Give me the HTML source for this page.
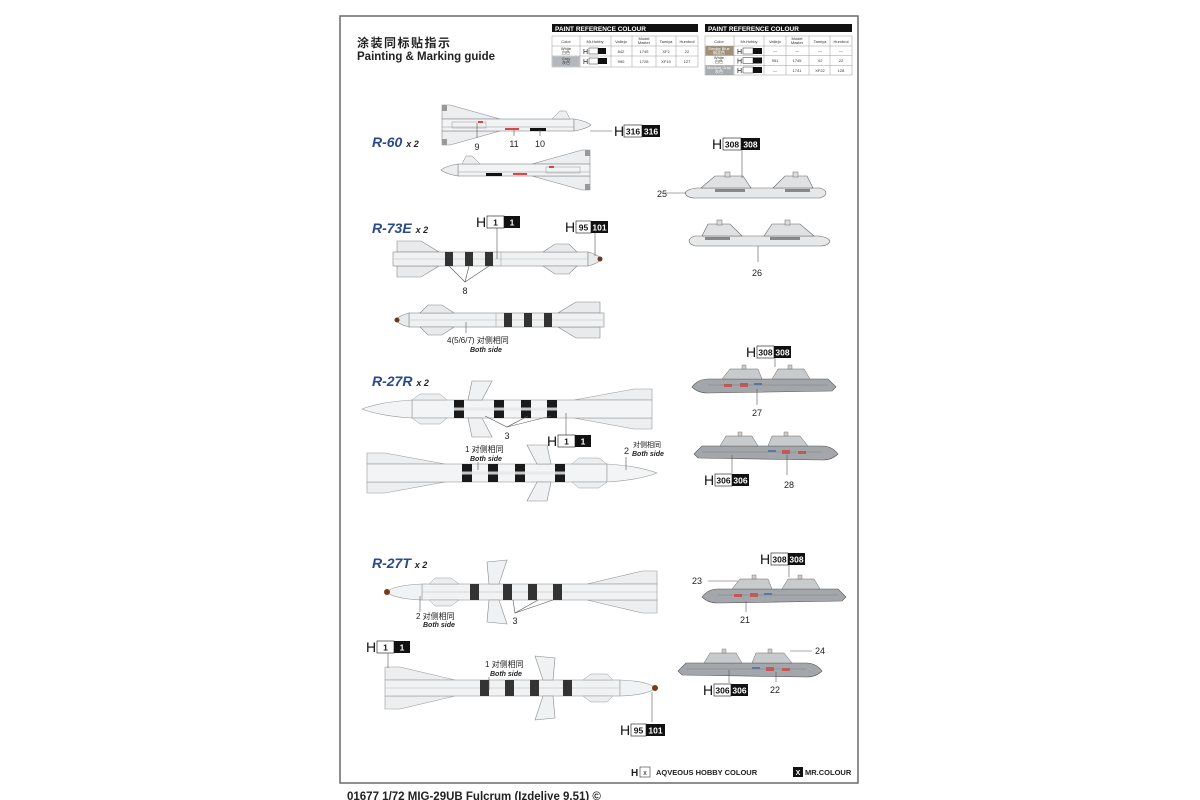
<!DOCTYPE html>
<html><head><meta charset="utf-8"><style>
html,body{margin:0;padding:0;background:#fff;}
svg{display:block;}
text{font-family:"Liberation Sans","Noto Sans CJK SC",sans-serif;}
</style></head><body>
<svg width="1200" height="800" viewBox="0 0 1200 800" xmlns="http://www.w3.org/2000/svg">
<defs>
 <!-- R-60: tail at 0, nose at +148, center 0 -->
 <g id="r60">
  <polygon points="0,-20 8,-20 58,-6 0,-6" fill="#eceef0" stroke="#888" stroke-width="0.6"/>
  <polygon points="0,20 8,20 58,6 0,6" fill="#eceef0" stroke="#888" stroke-width="0.6"/>
  <rect x="0" y="-6" width="132" height="12" fill="#f2f3f4" stroke="#888" stroke-width="0.6"/>
  <path d="M132,-6 Q144,-4 149,0 Q144,4 132,6 Z" fill="#eceef0" stroke="#888" stroke-width="0.6"/>
  <polygon points="110,-6 118,-14 124,-14 128,-6" fill="#eceef0" stroke="#888" stroke-width="0.5"/>
  <rect x="0" y="-20" width="5" height="6" fill="#999"/><rect x="0" y="14" width="5" height="6" fill="#999"/>
  <line x1="0" y1="2" x2="132" y2="2" stroke="#999" stroke-width="0.5"/>
  <rect x="10" y="-3" width="34" height="6" fill="none" stroke="#999" stroke-width="0.5"/>
  <rect x="88" y="3" width="16" height="3" fill="#111"/>
  <rect x="63" y="3" width="14" height="2" fill="#d44"/>
  <rect x="36" y="-4" width="5" height="2" fill="#d44"/>
 </g>
 <!-- R-73E -->
 <g id="r73">
  <polygon points="4,-18 28,-18 46,-7 4,-7" fill="#e8eaec" stroke="#888" stroke-width="0.6"/>
  <polygon points="4,18 28,18 46,7 4,7" fill="#e8eaec" stroke="#888" stroke-width="0.6"/>
  <rect x="0" y="-7" width="195" height="14" fill="#f0f1f2" stroke="#888" stroke-width="0.6"/>
  <path d="M195,-7 Q206,-4 208,0 Q206,4 195,7 Z" fill="#e8eaec" stroke="#888" stroke-width="0.6"/>
  <circle cx="207" cy="0" r="2.5" fill="#6a3a1a"/>
  <polygon points="150,-7 162,-15 176,-15 184,-7" fill="#e8eaec" stroke="#888" stroke-width="0.6"/>
  <polygon points="150,7 162,15 176,15 184,7" fill="#e8eaec" stroke="#888" stroke-width="0.6"/>
  <line x1="0" y1="0" x2="195" y2="0" stroke="#bbb" stroke-width="0.5"/>
  <rect x="52" y="-7" width="8" height="14" fill="#333"/>
  <rect x="72" y="-7" width="8" height="14" fill="#333"/>
  <rect x="92" y="-7" width="8" height="14" fill="#333"/>
  <line x1="108" y1="-7" x2="108" y2="7" stroke="#999" stroke-width="0.5"/>
 </g>
 <!-- R-27R -->
 <g id="r27r">
  <polygon points="0,-20 18,-20 78,-9 0,-9" fill="#eceef0" stroke="#999" stroke-width="0.6"/>
  <polygon points="0,20 18,20 78,9 0,9" fill="#eceef0" stroke="#999" stroke-width="0.6"/>
  <rect x="0" y="-9" width="240" height="18" fill="#f3f4f5" stroke="#999" stroke-width="0.6"/>
  <path d="M240,-9 Q272,-7 290,0 Q272,7 240,9 Z" fill="#f3f4f5" stroke="#999" stroke-width="0.6"/>
  <polygon points="205,-9 212,-15 232,-15 240,-9" fill="#eceef0" stroke="#999" stroke-width="0.5"/>
  <polygon points="205,9 212,15 232,15 240,9" fill="#eceef0" stroke="#999" stroke-width="0.5"/>
  <rect x="95" y="-9" width="10" height="18" fill="#1a1a1a"/>
  <rect x="121" y="-9" width="10" height="18" fill="#1a1a1a"/>
  <rect x="148" y="-9" width="10" height="18" fill="#1a1a1a"/>
  <rect x="188" y="-9" width="10" height="18" fill="#1a1a1a"/>
  <rect x="95" y="-1.5" width="103" height="3" fill="#e6e6e6" opacity="0.85"/>
  <polygon points="160,-28 180,-28 184,-9 170,-9" fill="#f0f1f2" stroke="#888" stroke-width="0.6"/>
  <polygon points="160,28 180,28 184,9 170,9" fill="#f0f1f2" stroke="#888" stroke-width="0.6"/>
 </g>
 <!-- R-27T -->
 <g id="r27t">
  <polygon points="0,-21 15,-21 70,-8 0,-8" fill="#eceef0" stroke="#999" stroke-width="0.6"/>
  <polygon points="0,21 15,21 70,8 0,8" fill="#eceef0" stroke="#999" stroke-width="0.6"/>
  <rect x="0" y="-8" width="235" height="16" fill="#f1f2f3" stroke="#999" stroke-width="0.6"/>
  <line x1="0" y1="0" x2="235" y2="0" stroke="#bbb" stroke-width="0.5"/>
  <path d="M235,-8 Q262,-7 271,0 Q262,7 235,8 Z" fill="#f1f2f3" stroke="#999" stroke-width="0.6"/>
  <circle cx="270" cy="0" r="3" fill="#7a3a1a"/>
  <polygon points="198,-8 206,-14 222,-14 228,-8" fill="#eceef0" stroke="#999" stroke-width="0.5"/>
  <polygon points="198,8 206,14 222,14 228,8" fill="#eceef0" stroke="#999" stroke-width="0.5"/>
  <rect x="95" y="-8" width="9" height="16" fill="#333"/>
  <rect x="120" y="-8" width="9" height="16" fill="#333"/>
  <rect x="145" y="-8" width="9" height="16" fill="#333"/>
  <rect x="178" y="-8" width="9" height="16" fill="#333"/>
  <polygon points="150,-32 170,-30 168,-8 158,-8" fill="#f0f1f2" stroke="#888" stroke-width="0.6"/>
  <polygon points="150,32 170,30 168,8 158,8" fill="#f0f1f2" stroke="#888" stroke-width="0.6"/>
 </g>
 <!-- light pylon -->
 <g id="pyl">
  <path d="M0,12 Q2,8 12,7 L135,7 Q141,9 141,12 Q141,15 135,17 L10,17 Q2,17 0,12 Z" fill="#e6e8ea" stroke="#666" stroke-width="0.6"/>
  <polygon points="16,7 30,-5 58,-5 66,7" fill="#dfe1e3" stroke="#666" stroke-width="0.6"/>
  <polygon points="88,7 100,-5 122,-5 128,7" fill="#dfe1e3" stroke="#666" stroke-width="0.6"/>
  <rect x="40" y="-9" width="5" height="5" fill="#ddd" stroke="#666" stroke-width="0.5"/>
  <rect x="108" y="-9" width="5" height="5" fill="#ddd" stroke="#666" stroke-width="0.5"/>
  <rect x="30" y="8" width="30" height="3" fill="#888"/><rect x="100" y="8" width="25" height="3" fill="#888"/>
 </g>
 <!-- gray pylon -->
 <g id="pylg">
  <path d="M0,12 Q6,4 16,4 L136,4 L140,8 L144,12 L140,16 L16,18 Q6,18 0,12 Z" fill="#a3a7ab" stroke="#555" stroke-width="0.6"/>
  <polygon points="30,4 38,-6 66,-6 70,4" fill="#c8cbce" stroke="#666" stroke-width="0.5"/>
  <polygon points="80,4 86,-6 112,-6 118,4" fill="#c8cbce" stroke="#666" stroke-width="0.5"/>
  <rect x="50" y="-10" width="4" height="4" fill="#ccc" stroke="#666" stroke-width="0.4"/>
  <rect x="96" y="-10" width="4" height="4" fill="#ccc" stroke="#666" stroke-width="0.4"/>
  <rect x="48" y="8" width="8" height="4" fill="#c55"/><rect x="62" y="8" width="8" height="2" fill="#57a"/><rect x="32" y="9" width="8" height="3" fill="#c55"/>
  <line x1="16" y1="10" x2="136" y2="10" stroke="#777" stroke-width="0.4"/>
 </g>
</defs>

<!-- page border -->
<rect x="340" y="16" width="518" height="767" fill="#fff" stroke="#6a6a6a" stroke-width="1.5"/>

<text x="357" y="47" font-size="12" font-weight="bold" fill="#222" letter-spacing="1.5">涂装同标贴指示</text>
<text x="357" y="60" font-size="11.5" font-weight="bold" fill="#222">Painting &amp; Marking guide</text>

<!-- table 1 -->
<rect x="552" y="24" width="146" height="8" fill="#111"/>
<text x="555" y="31" font-size="6.5" font-weight="bold" fill="#fff">PAINT  REFERENCE COLOUR</text>
<g stroke="#999" stroke-width="0.5" fill="none">
 <rect x="552" y="36" width="146" height="31"/>
 <line x1="552" y1="46" x2="698" y2="46"/><line x1="552" y1="56" x2="698" y2="56"/>
 <line x1="580" y1="36" x2="580" y2="67"/><line x1="611" y1="36" x2="611" y2="67"/><line x1="632" y1="36" x2="632" y2="67"/><line x1="656" y1="36" x2="656" y2="67"/><line x1="676" y1="36" x2="676" y2="67"/>
</g>
<rect x="552.5" y="56.5" width="27" height="10" fill="#b4b8bc"/>
<g font-size="4" fill="#333" text-anchor="middle">
 <text x="566" y="43">Color</text><text x="595" y="43">Mr.Hobby</text><text x="621" y="43">Vallejo</text><text x="644" y="40">Model</text><text x="644" y="44">Master</text><text x="666" y="43">Tamiya</text><text x="687" y="43">Humbrol</text>
 <text x="566" y="50">White</text><text x="566" y="54">白色</text><text x="621" y="53">842</text><text x="644" y="53">1745</text><text x="666" y="53">XF2</text><text x="687" y="53">22</text>
 <text x="566" y="60">Grey</text><text x="566" y="64">灰色</text><text x="621" y="63">990</text><text x="644" y="63">1728</text><text x="666" y="63">XF19</text><text x="687" y="63">127</text>
</g>
<text x="583" y="54" font-size="7" fill="#111">H</text><rect x="589" y="48" width="9" height="6" fill="#fff" stroke="#333" stroke-width="0.5"/><rect x="598" y="48" width="8" height="6" fill="#111"/>
<text x="583" y="64" font-size="7" fill="#111">H</text><rect x="589" y="58" width="9" height="6" fill="#fff" stroke="#333" stroke-width="0.5"/><rect x="598" y="58" width="9" height="6" fill="#111"/>

<!-- table 2 -->
<rect x="705" y="24" width="147" height="8" fill="#111"/>
<text x="708" y="31" font-size="6.5" font-weight="bold" fill="#fff">PAINT  REFERENCE COLOUR</text>
<rect x="705.5" y="46" width="28" height="9.5" fill="#a0907a"/>
<rect x="705.5" y="65.5" width="28" height="9.5" fill="#a8acb0"/>
<g stroke="#999" stroke-width="0.5" fill="none">
 <rect x="705" y="36" width="147" height="39"/>
 <line x1="705" y1="46" x2="852" y2="46"/><line x1="705" y1="55.5" x2="852" y2="55.5"/><line x1="705" y1="65.5" x2="852" y2="65.5"/>
 <line x1="734" y1="36" x2="734" y2="75"/><line x1="764" y1="36" x2="764" y2="75"/><line x1="786" y1="36" x2="786" y2="75"/><line x1="809" y1="36" x2="809" y2="75"/><line x1="830" y1="36" x2="830" y2="75"/>
</g>
<g font-size="4" fill="#333" text-anchor="middle">
 <text x="719" y="43">Color</text><text x="749" y="43">Mr.Hobby</text><text x="775" y="43">Vallejo</text><text x="797" y="40">Model</text><text x="797" y="44">Master</text><text x="820" y="43">Tamiya</text><text x="841" y="43">Humbrol</text>
 <text x="775" y="52">—</text><text x="797" y="52">—</text><text x="820" y="52">—</text><text x="841" y="52">—</text>
 <text x="719" y="59">White</text><text x="719" y="63">白色</text><text x="775" y="62">951</text><text x="797" y="62">1745</text><text x="820" y="62">X2</text><text x="841" y="62">22</text>
 <text x="775" y="72">—</text><text x="797" y="72">1741</text><text x="820" y="72">XF22</text><text x="841" y="72">128</text>
</g>
<text x="719" y="50" font-size="4" fill="#fff" text-anchor="middle">Smoke Blue</text><text x="719" y="54" font-size="4" fill="#fff" text-anchor="middle">烟蓝色</text>
<text x="719" y="69" font-size="4" fill="#fff" text-anchor="middle">Medium Gray</text><text x="719" y="73" font-size="4" fill="#fff" text-anchor="middle">灰色</text>
<g font-size="7" fill="#111"><text x="737" y="54">H</text><text x="737" y="63.5">H</text><text x="737" y="73">H</text></g>
<g stroke="#333" stroke-width="0.5"><rect x="743" y="48" width="10" height="6" fill="#fff"/><rect x="743" y="57.5" width="10" height="6" fill="#fff"/><rect x="743" y="67" width="10" height="6" fill="#fff"/></g>
<rect x="753" y="48" width="9" height="6" fill="#111"/><rect x="753" y="57.5" width="9" height="6" fill="#111"/><rect x="753" y="67" width="9" height="6" fill="#111"/>

<!-- section labels -->
<g font-style="italic" font-weight="bold" fill="#2a4a8a">
 <text x="372" y="147" font-size="14">R-60 <tspan font-size="9" fill="#222">x 2</tspan></text>
 <text x="372" y="233" font-size="14">R-73E <tspan font-size="9" fill="#222">x 2</tspan></text>
 <text x="372" y="386" font-size="14">R-27R <tspan font-size="9" fill="#222">x 2</tspan></text>
 <text x="372" y="568" font-size="14">R-27T <tspan font-size="9" fill="#222">x 2</tspan></text>
</g>

<!-- R-60 -->
<use href="#r60" transform="translate(442,125)"/>
<use href="#r60" transform="translate(590,170) scale(-1,1)"/>
<line x1="590" y1="131" x2="612" y2="131" stroke="#555" stroke-width="0.6"/>
<line x1="477" y1="123" x2="477" y2="138" stroke="#555" stroke-width="0.6"/>
<line x1="514" y1="130" x2="514" y2="136" stroke="#555" stroke-width="0.6"/>
<line x1="540" y1="130" x2="540" y2="136" stroke="#555" stroke-width="0.6"/>
<g font-size="9" fill="#222" text-anchor="middle"><text x="477" y="150">9</text><text x="514" y="147">11</text><text x="540" y="147">10</text></g>

<!-- R-73E -->
<use href="#r73" transform="translate(393,259)"/>
<use href="#r73" transform="translate(604,320) scale(-1,1)"/>
<line x1="497" y1="228" x2="497" y2="259" stroke="#555" stroke-width="0.6"/>
<line x1="595" y1="233" x2="595" y2="256" stroke="#555" stroke-width="0.6"/>
<polyline points="449,266 465,282 469,266" fill="none" stroke="#555" stroke-width="0.6"/>
<line x1="465" y1="282" x2="489" y2="266" stroke="#555" stroke-width="0.6"/>
<text x="465" y="294" font-size="9" fill="#222" text-anchor="middle">8</text>
<line x1="466" y1="322" x2="466" y2="333" stroke="#555" stroke-width="0.6"/>
<text x="447" y="343" font-size="8" fill="#222">4(5/6/7) 对侧相同</text>
<text x="470" y="352" font-size="7" font-weight="bold" font-style="italic" fill="#222">Both side</text>

<!-- R-27R -->
<use href="#r27r" transform="translate(652,409) scale(-1,1)"/>
<use href="#r27r" transform="translate(367,473)"/>
<polyline points="485,416 507,427 528,416" fill="none" stroke="#555" stroke-width="0.6"/>
<line x1="507" y1="427" x2="551" y2="416" stroke="#555" stroke-width="0.6"/>
<text x="507" y="439" font-size="9" fill="#222" text-anchor="middle">3</text>
<line x1="566" y1="413" x2="566" y2="436" stroke="#555" stroke-width="0.6"/>
<text x="465" y="452" font-size="8" fill="#222">1 对侧相同</text>
<text x="470" y="461" font-size="7" font-weight="bold" font-style="italic" fill="#222">Both side</text>
<line x1="478" y1="462" x2="478" y2="470" stroke="#555" stroke-width="0.6"/>
<text x="624" y="454" font-size="9" fill="#222">2</text>
<text x="633" y="447" font-size="7" fill="#222">对侧相同</text>
<text x="632" y="456" font-size="7" font-weight="bold" font-style="italic" fill="#222">Both side</text>
<line x1="626" y1="457" x2="626" y2="470" stroke="#555" stroke-width="0.6"/>

<!-- R-27T -->
<use href="#r27t" transform="translate(657,592) scale(-1,1)"/>
<use href="#r27t" transform="translate(385,688)"/>
<polyline points="513,600 515,613 538,600" fill="none" stroke="#555" stroke-width="0.6"/>
<line x1="515" y1="613" x2="553" y2="600" stroke="#555" stroke-width="0.6"/>
<text x="515" y="624" font-size="9" fill="#222" text-anchor="middle">3</text>
<line x1="420" y1="596" x2="420" y2="612" stroke="#555" stroke-width="0.6"/>
<text x="416" y="619" font-size="8" fill="#222">2 对侧相同</text>
<text x="423" y="627" font-size="7" font-weight="bold" font-style="italic" fill="#222">Both side</text>
<line x1="388" y1="652" x2="388" y2="668" stroke="#555" stroke-width="0.6"/>
<text x="485" y="667" font-size="8" fill="#222">1 对侧相同</text>
<text x="490" y="676" font-size="7" font-weight="bold" font-style="italic" fill="#222">Both side</text>
<line x1="489" y1="677" x2="489" y2="690" stroke="#555" stroke-width="0.6"/>
<line x1="652" y1="692" x2="652" y2="722" stroke="#555" stroke-width="0.6"/>

<!-- pylons -->
<use href="#pyl" transform="translate(685,181)"/>
<use href="#pyl" transform="translate(830,229) scale(-1,1)"/>
<line x1="742" y1="150" x2="742" y2="178" stroke="#555" stroke-width="0.6"/>
<line x1="664" y1="193" x2="686" y2="193" stroke="#555" stroke-width="0.6"/>
<line x1="758" y1="246" x2="758" y2="262" stroke="#555" stroke-width="0.6"/>
<text x="657" y="197" font-size="9" fill="#222">25</text>
<text x="752" y="276" font-size="9" fill="#222">26</text>

<use href="#pylg" transform="translate(692,375)"/>
<use href="#pylg" transform="translate(838,442) scale(-1,1)"/>
<line x1="775" y1="357" x2="775" y2="367" stroke="#555" stroke-width="0.6"/>
<line x1="757" y1="389" x2="757" y2="405" stroke="#555" stroke-width="0.6"/>
<line x1="732" y1="455" x2="732" y2="473" stroke="#555" stroke-width="0.6"/>
<line x1="787" y1="455" x2="787" y2="475" stroke="#555" stroke-width="0.6"/>
<text x="752" y="416" font-size="9" fill="#222">27</text>
<text x="784" y="488" font-size="9" fill="#222">28</text>

<use href="#pylg" transform="translate(702,585)"/>
<use href="#pylg" transform="translate(822,659) scale(-1,1)"/>
<line x1="789" y1="565" x2="789" y2="577" stroke="#555" stroke-width="0.6"/>
<line x1="708" y1="581" x2="738" y2="581" stroke="#555" stroke-width="0.6"/>
<line x1="746" y1="601" x2="746" y2="612" stroke="#555" stroke-width="0.6"/>
<line x1="790" y1="651" x2="812" y2="651" stroke="#555" stroke-width="0.6"/>
<line x1="729" y1="670" x2="729" y2="683" stroke="#555" stroke-width="0.6"/>
<line x1="776" y1="672" x2="776" y2="682" stroke="#555" stroke-width="0.6"/>
<g font-size="9" fill="#222"><text x="692" y="584">23</text><text x="740" y="623">21</text><text x="815" y="654">24</text><text x="770" y="693">22</text></g>

<!-- colour callouts -->
<g font-weight="bold" font-size="8.5">
 <text x="614" y="136" font-size="14" font-weight="normal" fill="#111">H</text>
 <rect x="624" y="125" width="18" height="12" fill="#fff" stroke="#333" stroke-width="0.7"/><text x="633" y="134.5" text-anchor="middle" fill="#111">316</text>
 <rect x="642" y="125" width="18" height="12" fill="#111"/><text x="651" y="134.5" text-anchor="middle" fill="#fff">316</text>

 <text x="712" y="149" font-size="14" font-weight="normal" fill="#111">H</text>
 <rect x="723" y="138" width="18" height="12" fill="#fff" stroke="#333" stroke-width="0.7"/><text x="732" y="147.5" text-anchor="middle" fill="#111">308</text>
 <rect x="741" y="138" width="19" height="12" fill="#111"/><text x="750.5" y="147.5" text-anchor="middle" fill="#fff">308</text>

 <text x="476" y="227" font-size="14" font-weight="normal" fill="#111">H</text>
 <rect x="487" y="216" width="17" height="12" fill="#fff" stroke="#333" stroke-width="0.7"/><text x="495.5" y="225.5" text-anchor="middle" fill="#111">1</text>
 <rect x="504" y="216" width="16" height="12" fill="#111"/><text x="512" y="225.5" text-anchor="middle" fill="#fff">1</text>

 <text x="565" y="232" font-size="14" font-weight="normal" fill="#111">H</text>
 <rect x="576" y="221" width="15" height="12" fill="#fff" stroke="#333" stroke-width="0.7"/><text x="583.5" y="230.5" text-anchor="middle" fill="#111">95</text>
 <rect x="591" y="221" width="17" height="12" fill="#111"/><text x="599.5" y="230.5" text-anchor="middle" fill="#fff">101</text>

 <text x="746" y="357" font-size="14" font-weight="normal" fill="#111">H</text>
 <rect x="757" y="346" width="17" height="12" fill="#fff" stroke="#333" stroke-width="0.7"/><text x="765.5" y="355.5" text-anchor="middle" fill="#111">308</text>
 <rect x="774" y="346" width="17" height="12" fill="#111"/><text x="782.5" y="355.5" text-anchor="middle" fill="#fff">308</text>

 <text x="547" y="446" font-size="14" font-weight="normal" fill="#111">H</text>
 <rect x="558" y="435" width="17" height="12" fill="#fff" stroke="#333" stroke-width="0.7"/><text x="566.5" y="444.5" text-anchor="middle" fill="#111">1</text>
 <rect x="575" y="435" width="16" height="12" fill="#111"/><text x="583" y="444.5" text-anchor="middle" fill="#fff">1</text>

 <text x="704" y="485" font-size="14" font-weight="normal" fill="#111">H</text>
 <rect x="715" y="474" width="17" height="12" fill="#fff" stroke="#333" stroke-width="0.7"/><text x="723.5" y="483.5" text-anchor="middle" fill="#111">306</text>
 <rect x="732" y="474" width="17" height="12" fill="#111"/><text x="740.5" y="483.5" text-anchor="middle" fill="#fff">306</text>

 <text x="760" y="564" font-size="14" font-weight="normal" fill="#111">H</text>
 <rect x="771" y="553" width="17" height="12" fill="#fff" stroke="#333" stroke-width="0.7"/><text x="779.5" y="562.5" text-anchor="middle" fill="#111">308</text>
 <rect x="788" y="553" width="17" height="12" fill="#111"/><text x="796.5" y="562.5" text-anchor="middle" fill="#fff">308</text>

 <text x="366" y="652" font-size="14" font-weight="normal" fill="#111">H</text>
 <rect x="377" y="641" width="17" height="12" fill="#fff" stroke="#333" stroke-width="0.7"/><text x="385.5" y="650.5" text-anchor="middle" fill="#111">1</text>
 <rect x="394" y="641" width="16" height="12" fill="#111"/><text x="402" y="650.5" text-anchor="middle" fill="#fff">1</text>

 <text x="703" y="695" font-size="14" font-weight="normal" fill="#111">H</text>
 <rect x="714" y="684" width="17" height="12" fill="#fff" stroke="#333" stroke-width="0.7"/><text x="722.5" y="693.5" text-anchor="middle" fill="#111">306</text>
 <rect x="731" y="684" width="17" height="12" fill="#111"/><text x="739.5" y="693.5" text-anchor="middle" fill="#fff">306</text>

 <text x="620" y="735" font-size="14" font-weight="normal" fill="#111">H</text>
 <rect x="631" y="724" width="15" height="12" fill="#fff" stroke="#333" stroke-width="0.7"/><text x="638.5" y="733.5" text-anchor="middle" fill="#111">95</text>
 <rect x="646" y="724" width="19" height="12" fill="#111"/><text x="655.5" y="733.5" text-anchor="middle" fill="#fff">101</text>
</g>

<!-- legend -->
<text x="631" y="776" font-size="10" font-weight="bold" fill="#222">H</text>
<rect x="640" y="767" width="10" height="10" fill="#fff" stroke="#333" stroke-width="0.6"/>
<text x="645" y="775" font-size="7" fill="#222" text-anchor="middle">x</text>
<text x="656" y="775" font-size="7.5" font-weight="bold" fill="#222">AQVEOUS HOBBY COLOUR</text>
<rect x="793" y="767" width="10" height="10" fill="#111"/>
<text x="798" y="775" font-size="7" font-weight="bold" fill="#fff" text-anchor="middle">X</text>
<text x="805" y="775" font-size="7.5" font-weight="bold" fill="#222">MR.COLOUR</text>

<text x="347" y="800" font-size="11.5" font-weight="bold" fill="#222">01677 1/72 MIG-29UB Fulcrum (Izdeliye 9.51)  ©</text>
</svg>
</body></html>
